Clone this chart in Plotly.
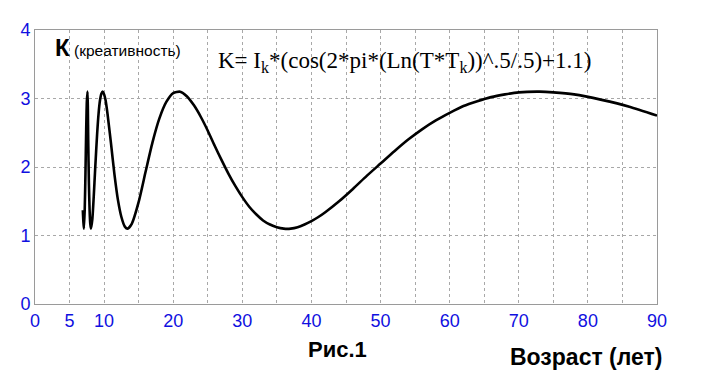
import plotly.graph_objects as go

# Age (years) and creativity K
age = [6.92, 7.0, 7.08, 7.2, 7.3, 7.4, 7.5, 7.6, 7.65, 7.7, 7.8, 7.9, 8.0, 8.1,
       8.3, 8.5, 8.7, 9.0, 9.2, 9.4, 9.6, 9.8, 10.0, 10.2, 10.5, 11, 11.5, 12,
       12.5, 13, 13.4, 14, 15, 16, 17, 18, 19, 20, 21, 22, 23, 24, 25, 26, 27,
       28, 29, 30, 31, 32, 33, 34, 35, 36, 37, 38, 39, 40, 41, 42, 44, 46, 48,
       50, 52, 54, 56, 58, 60, 62, 64, 66, 68, 70, 73, 75, 78, 82, 86, 90]
creativity = [1.37, 1.2, 1.1, 1.4, 1.9, 2.5, 2.95, 3.1, 2.85, 2.4, 1.76, 1.37, 1.17, 1.1,
              1.24, 1.57, 1.96, 2.50, 2.78, 2.97, 3.07, 3.1, 3.06, 2.98, 2.77, 2.34, 1.89, 1.52,
              1.27, 1.13, 1.1, 1.17, 1.49, 1.93, 2.36, 2.71, 2.95, 3.08, 3.1, 3.03, 2.90, 2.73, 2.53, 2.31, 2.10,
              1.90, 1.72, 1.56, 1.42, 1.31, 1.22, 1.16, 1.12, 1.10, 1.10, 1.12, 1.16, 1.21, 1.27, 1.34, 1.50, 1.68, 1.87,
              2.05, 2.23, 2.40, 2.55, 2.68, 2.79, 2.89, 2.96, 3.02, 3.06, 3.09, 3.1, 3.09,
              3.06, 2.98, 2.88, 2.75]

x_tick_vals = list(range(0, 95, 5))
x_tick_text = ["0", "5", "10", "", "20", "", "30", "", "40", "", "50", "", "60", "", "70", "", "80", "", "90"]
y_tick_vals = [0, 1, 2, 3, 4]

formula = "K= I<sub>k</sub>*(cos(2*pi*(Ln(T*T<sub>k</sub>))^.5/.5)+1.1)"

fig = go.Figure()
fig.add_trace(go.Scatter(x=age, y=creativity, mode="lines",
                         line=dict(color="black", width=2.6, shape="spline", smoothing=0.6),
                         showlegend=False, hoverinfo="skip"))

blue = "#1010E0"
axis_common = dict(showline=True, linecolor="#9a9a9a", linewidth=1, mirror=True,
                   showgrid=True, gridcolor="#a8a8a8", griddash="dot", gridwidth=1,
                   zeroline=False, ticks="",
                   tickfont=dict(family="Liberation Sans, Arial", size=18, color=blue))

# page has an 8px body margin; figure placed at (8, 8)
OFF = 8
W, H = 702, 375
l, r, t, b = 24, 53, 18, 79
pw, ph = W - l - r, H - t - b


def px(x):
    return (x - OFF - l) / pw


def py(y):
    return (H - b - (y - OFF)) / ph


fig.update_layout(
    width=W, height=H,
    margin=dict(l=l, r=r, t=t, b=b),
    paper_bgcolor="white", plot_bgcolor="white",
    xaxis=dict(range=[0, 90], tickmode="array", tickvals=x_tick_vals, ticktext=x_tick_text, **axis_common),
    yaxis=dict(range=[0, 4], tickmode="array", tickvals=y_tick_vals, **axis_common),
    annotations=[
        dict(x=px(50), y=py(44), xref="paper", yref="paper", text="<b>К</b>", showarrow=False,
             font=dict(family="Liberation Sans, Arial", size=24, color="black"),
             xanchor="left", yanchor="middle"),
        dict(x=px(69), y=py(47), xref="paper", yref="paper", text="(креативность)", showarrow=False,
             font=dict(family="Liberation Sans, Arial", size=15.5, color="black"),
             xanchor="left", yanchor="middle"),
        dict(x=px(214), y=py(58), xref="paper", yref="paper", text=formula, showarrow=False,
             font=dict(family="Liberation Serif, Times New Roman", size=23, color="black"),
             xanchor="left", yanchor="middle"),
        dict(x=px(304), y=py(350), xref="paper", yref="paper", text="<b>Рис.1</b>", showarrow=False,
             font=dict(family="Liberation Sans, Arial", size=22, color="black"),
             xanchor="left", yanchor="middle"),
        dict(x=px(507), y=py(358), xref="paper", yref="paper", text="<b>Возраст (лет)</b>", showarrow=False,
             font=dict(family="Liberation Sans, Arial", size=23, color="black"),
             xanchor="left", yanchor="middle"),
    ],
)

fig.write_html("out.html")
